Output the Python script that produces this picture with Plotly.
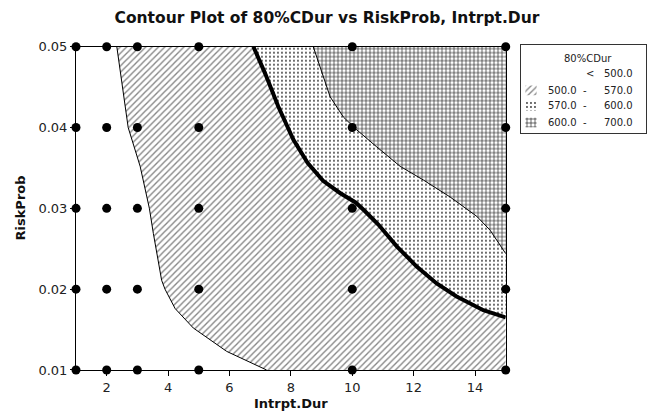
import plotly.graph_objects as go

# ---------------- data ----------------
response_name = "80%CDur"
x_name = "Intrpt.Dur"
y_name = "RiskProb"

# design points (Intrpt.Dur x RiskProb grid)
design_x = [1, 2, 3, 5, 10, 15]
design_y = [0.01, 0.02, 0.03, 0.04, 0.05]

# contour levels
levels = [500.0, 570.0, 600.0, 700.0]

# contour line at 500
c500_x = [2.33, 2.49, 2.70, 3.09, 3.39, 3.52, 3.79, 3.90, 4.23, 4.82, 5.91, 7.21]
c500_y = [0.050, 0.0455, 0.040, 0.0352, 0.030, 0.0269, 0.0211, 0.020, 0.0176, 0.0152, 0.0123, 0.010]

# contour line at 570
c570_x = [6.78, 7.16, 7.59, 8.08, 8.55, 9.05, 9.60, 10.12, 10.40, 10.85, 11.45, 12.10, 12.75, 13.40, 14.27, 15.0]
c570_y = [0.050, 0.0467, 0.0426, 0.0385, 0.0356, 0.0334, 0.0319, 0.0307, 0.0297, 0.0280, 0.0253, 0.0228, 0.0207, 0.0191, 0.0174, 0.0165]

# contour line at 600
c600_x = [8.73, 9.01, 9.28, 9.71, 10.15, 10.80, 11.56, 12.32, 13.19, 14.06, 14.49, 15.0]
c600_y = [0.050, 0.0467, 0.0438, 0.0413, 0.0397, 0.0376, 0.0352, 0.0335, 0.0314, 0.0290, 0.0273, 0.0244]

x_ticks = [2, 4, 6, 8, 10, 12, 14]
y_ticks = [0.01, 0.02, 0.03, 0.04, 0.05]

# ---------------- styles ----------------
FONT = "DejaVu Sans"
hatch = dict(shape="/", size=4.5, solidity=0.3, fgcolor="#858585", bgcolor="white", fgopacity=1)
dots = dict(shape=".", size=4, solidity=0.18, fgcolor="#3a3a3a", bgcolor="white", fgopacity=1)
grid = dict(shape="+", size=4, solidity=0.3, fgcolor="#1a1a1a", bgcolor="white", fgopacity=1)

xmin, xmax = design_x[0], design_x[-1]
ymin, ymax = design_y[0], design_y[-1]

fig = go.Figure()

# filled regions (layered, each covers everything to the upper right of its contour)
fig.add_trace(go.Scatter(x=c500_x + [xmax, xmax], y=c500_y + [ymin, ymax],
                         fill="toself", fillcolor="white", fillpattern=hatch,
                         mode="lines", line=dict(width=0), hoverinfo="skip", showlegend=False))
fig.add_trace(go.Scatter(x=c570_x + [xmax], y=c570_y + [ymax],
                         fill="toself", fillcolor="white", fillpattern=dots,
                         mode="lines", line=dict(width=0), hoverinfo="skip", showlegend=False))
fig.add_trace(go.Scatter(x=c600_x + [xmax], y=c600_y + [ymax],
                         fill="toself", fillcolor="white", fillpattern=grid,
                         mode="lines", line=dict(width=0), hoverinfo="skip", showlegend=False))

# contour lines
fig.add_trace(go.Scatter(x=c500_x, y=c500_y, mode="lines", line=dict(color="black", width=1),
                         showlegend=False, hoverinfo="skip"))
fig.add_trace(go.Scatter(x=c570_x, y=c570_y, mode="lines", line=dict(color="black", width=4),
                         showlegend=False, hoverinfo="skip"))
fig.add_trace(go.Scatter(x=c600_x, y=c600_y, mode="lines", line=dict(color="black", width=1),
                         showlegend=False, hoverinfo="skip"))

# design points
px, py = [], []
for yv in design_y:
    for xv in design_x:
        px.append(xv)
        py.append(yv)
fig.add_trace(go.Scatter(x=px, y=py, mode="markers", cliponaxis=False,
                         marker=dict(color="black", size=9), showlegend=False))

# ---------------- legend (drawn on its own small axes) ----------------
row_y = [0.676, 0.484, 0.311, 0.119]
patterns = [None, hatch, dots, grid]
for i, pat in enumerate(patterns):
    if pat is not None:
        cy = row_y[i]
        fig.add_trace(go.Scatter(x=[0.035, 0.125, 0.125, 0.035, 0.035],
                                 y=[cy - 0.055, cy - 0.055, cy + 0.055, cy + 0.055, cy - 0.055],
                                 xaxis="x2", yaxis="y2", fill="toself", fillcolor="white",
                                 fillpattern=pat, mode="lines", line=dict(width=0),
                                 hoverinfo="skip", showlegend=False))

ann = []
lf = dict(family=FONT, size=10, color="#222")
ann.append(dict(x=0.535, y=0.841, xref="x2", yref="y2", text=response_name, showarrow=False,
                font=lf, xanchor="center", yanchor="middle"))
ann.append(dict(x=0.552, y=row_y[0], xref="x2", yref="y2", text="<", showarrow=False,
                font=lf, xanchor="center", yanchor="middle"))
ann.append(dict(x=0.915, y=row_y[0], xref="x2", yref="y2", text=f"{levels[0]:.1f}", showarrow=False,
                font=lf, xanchor="right", yanchor="middle"))
for i in range(1, 4):
    ann.append(dict(x=0.466, y=row_y[i], xref="x2", yref="y2", text=f"{levels[i-1]:.1f}",
                    showarrow=False, font=lf, xanchor="right", yanchor="middle"))
    ann.append(dict(x=0.512, y=row_y[i], xref="x2", yref="y2", text="-",
                    showarrow=False, font=lf, xanchor="center", yanchor="middle"))
    ann.append(dict(x=0.915, y=row_y[i], xref="x2", yref="y2", text=f"{levels[i]:.1f}",
                    showarrow=False, font=lf, xanchor="right", yanchor="middle"))

# axis titles
ann.append(dict(x=0.5, y=-0.105, xref="x domain", yref="y domain", text=f"<b>{x_name}</b>",
                showarrow=False, font=dict(family=FONT, size=13, color="#111"),
                xanchor="center", yanchor="middle"))
ann.append(dict(x=-0.130, y=0.5, xref="x domain", yref="y domain", text=f"<b>{y_name}</b>",
                showarrow=False, textangle=-90, font=dict(family=FONT, size=13, color="#111"),
                xanchor="center", yanchor="middle"))

axis_common = dict(showgrid=False, zeroline=False, showline=True, linecolor="black",
                   linewidth=1, mirror=True, ticks="outside", ticklen=5, tickcolor="black",
                   tickfont=dict(family=FONT, size=13, color="#222"))

fig.update_layout(
    width=650, height=414,
    margin=dict(l=76, r=4, t=44, b=44),
    paper_bgcolor="white", plot_bgcolor="white",
    title=dict(text=f"<b>Contour Plot of {response_name} vs {y_name}, {x_name}</b>",
               x=0.503, xref="container", xanchor="center",
               y=1 - 18 / 414, yref="container", yanchor="middle",
               font=dict(family=FONT, size=15.5, color="#111")),
    xaxis=dict(domain=[0, 0.7539], range=[xmin, xmax], tickvals=x_ticks, **axis_common),
    yaxis=dict(domain=[0, 0.9917], range=[ymin, ymax], tickvals=y_ticks, tickformat=".2f",
               **axis_common),
    xaxis2=dict(domain=[0.7807, 1.0], range=[0, 1], anchor="y2", showgrid=False, zeroline=False,
                showticklabels=False, ticks="", showline=True, mirror=True, linecolor="#333"),
    yaxis2=dict(domain=[0.727, 0.997], range=[0, 1], anchor="x2", showgrid=False, zeroline=False,
                showticklabels=False, ticks="", showline=True, mirror=True, linecolor="#333"),
    annotations=ann,
    showlegend=False,
)

fig.write_html("out.html", config={"displayModeBar": False},
               post_script="document.body.style.margin='0px';")
